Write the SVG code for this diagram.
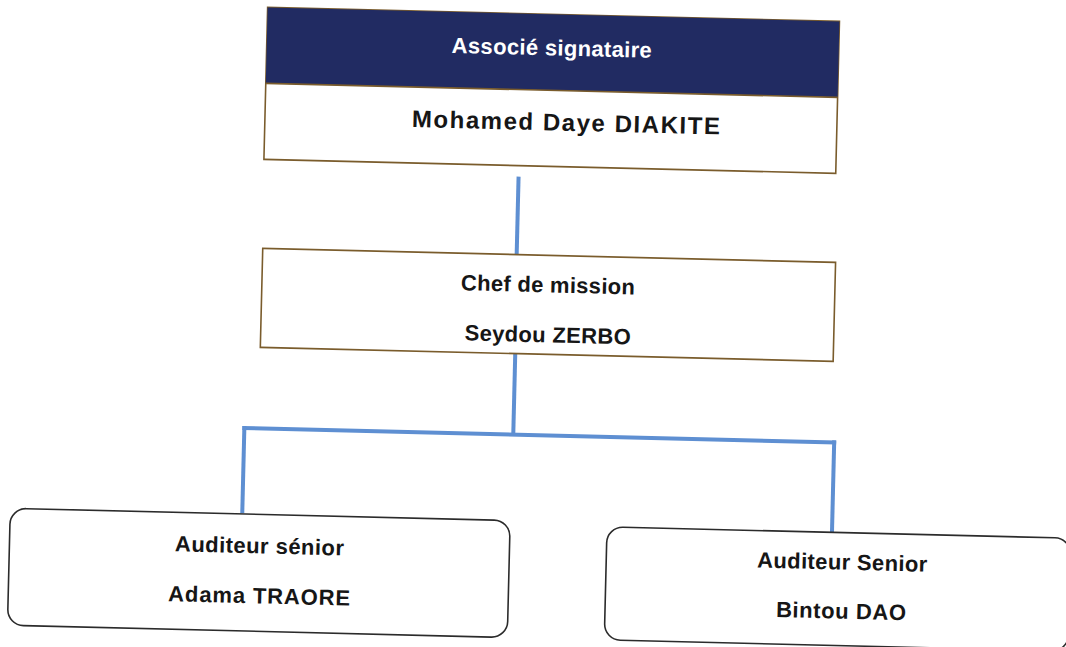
<svg xmlns="http://www.w3.org/2000/svg" width="1066" height="647" viewBox="0 0 1066 647">
<style>
.t{font-family:"Liberation Sans",Arial,sans-serif;font-weight:bold;font-size:22px;fill:#161616;text-anchor:middle}
.w{fill:#ffffff}
.big{font-size:24px}
.box{fill:#ffffff;stroke:#7a5c2c;stroke-width:1.6}
.rbox{fill:#ffffff;stroke:#2b2b2b;stroke-width:1.6}
.con{fill:none;stroke:#5e8fd2;stroke-width:4}
</style>
<rect width="1066" height="647" fill="#ffffff"/>
<g transform="rotate(1.4 533 323)">
<g id="connectors">
<line class="con" x1="515" y1="177" x2="515" y2="255"/>
<line class="con" x1="516" y1="354" x2="516" y2="435"/>
<line class="con" x1="245" y1="435" x2="839" y2="435"/>
<line class="con" x1="247" y1="433" x2="247" y2="520"/>
<line class="con" x1="837" y1="433" x2="837" y2="525"/>
</g>
<g id="associe">
<rect x="260" y="14" width="572" height="152" class="box"/>
<rect x="260" y="14" width="572" height="76" fill="#212b62"/>
<line x1="260" y1="90" x2="832" y2="90" stroke="#7a5c2c" stroke-width="1.6"/>
<text class="t w" x="545" y="55" textLength="200" lengthAdjust="spacing">Associé signataire</text>
<text class="t big" x="561" y="130" textLength="308" lengthAdjust="spacing">Mohamed Daye DIAKITE</text>
</g>
<g id="chef">
<rect x="261" y="255" width="573" height="99" class="box"/>
<text class="t" x="547" y="292" textLength="174" lengthAdjust="spacing">Chef de mission</text>
<text class="t" x="548" y="342" textLength="166" lengthAdjust="spacing">Seydou ZERBO</text>
</g>
<g id="adama">
<rect x="15" y="521" width="500" height="117" rx="16" class="rbox"/>
<text class="t" x="265" y="560" textLength="169" lengthAdjust="spacing">Auditeur sénior</text>
<text class="t" x="266" y="610" textLength="182" lengthAdjust="spacing">Adama TRAORE</text>
</g>
<g id="bintou">
<rect x="612" y="525" width="464" height="113" rx="16" class="rbox"/>
<text class="t" x="848" y="562" textLength="170" lengthAdjust="spacing">Auditeur Senior</text>
<text class="t" x="848" y="611" textLength="130" lengthAdjust="spacing">Bintou DAO</text>
</g>
</g>
</svg>
